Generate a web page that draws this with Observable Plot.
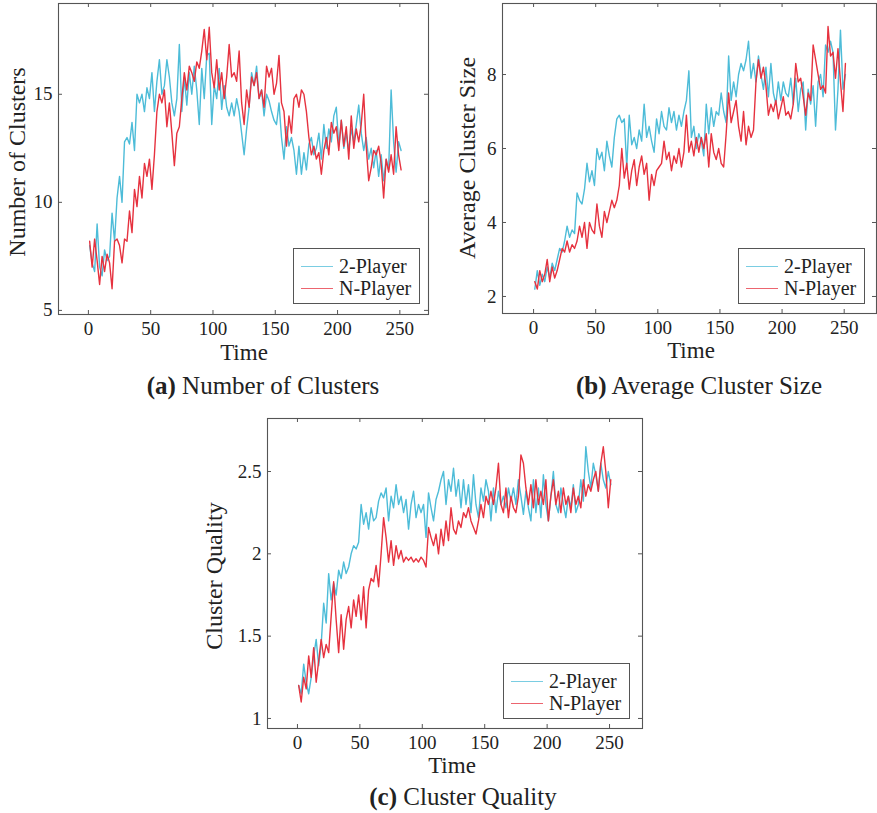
<!DOCTYPE html>
<html><head><meta charset="utf-8">
<script src="https://cdn.jsdelivr.net/npm/d3@7"></script>
<script src="https://cdn.jsdelivr.net/npm/@observablehq/plot@0.6"></script>
<style>
body{margin:0;background:#fff;}
#root{position:relative;width:877px;height:813px;font-family:"Liberation Serif",serif;color:#222;overflow:hidden;}
.plot{position:absolute;}
.lbl{position:absolute;white-space:nowrap;transform:translate(-50%,-50%);line-height:1;}
.rot{transform:translate(-50%,-50%) rotate(-90deg);}
.legend{position:absolute;border:1px solid #555;background:#fff;box-sizing:border-box;}
.legend .sw{position:absolute;height:0;border-top:1.5px solid;}
.legend .tx{position:absolute;font-size:20px;line-height:1;transform:translateY(-50%);white-space:nowrap;}
</style></head>
<body><div id="root"></div>
<script>
// Time grid (every second step)
const time = d3.range(1, 252, 2);
const xTicks = [0, 50, 100, 150, 200, 250];
const seriesNames = ["2-Player", "N-Player"];

// (a) Number of Clusters
const twoA = [8.0,7.2,6.8,9.0,7.0,6.6,7.8,7.3,7.5,9.5,
8.2,10.2,11.2,10.0,12.8,13.0,12.7,13.7,12.4,15.0,
14.6,15.0,14.2,15.3,14.8,16.0,14.2,15.6,16.6,15.0,
15.4,16.6,15.8,14.6,14.0,14.8,17.3,14.2,15.8,14.5,
16.0,15.0,16.3,15.2,13.6,16.2,14.8,16.8,16.9,13.6,
15.4,14.8,16.2,14.3,15.4,14.4,14.0,14.6,14.0,14.8,
14.2,13.2,12.2,13.4,14.4,16.0,15.4,16.3,14.8,15.2,
14.0,15.0,14.7,14.2,13.8,13.6,14.6,13.0,12.0,13.5,
12.6,13.0,12.4,11.3,12.6,11.3,12.3,11.5,12.7,13.0,
12.2,12.5,13.2,12.0,13.6,12.5,13.4,12.8,14.0,14.4,
12.6,13.8,12.5,13.2,12.4,13.4,12.8,13.6,14.5,13.2,
12.4,13.0,12.0,12.5,11.6,12.4,11.2,12.2,11.0,12.0,
11.5,15.2,12.8,11.4,12.8,12.4];
const nA = [8.2,7.0,8.3,7.3,6.2,7.5,6.8,7.6,7.2,6.0,
8.2,8.3,8.0,7.2,8.3,8.2,9.6,8.6,10.6,9.8,
11.2,10.2,11.8,11.2,12.0,10.6,12.2,14.2,15.0,14.6,
15.2,13.5,14.6,13.2,11.7,13.2,13.5,14.8,16.0,15.2,
16.3,16.0,15.6,16.5,16.2,17.0,18.0,16.6,18.1,16.0,
15.3,16.6,15.2,16.0,14.8,15.8,17.3,15.8,16.0,15.6,
17.0,14.6,13.6,15.2,14.4,15.8,15.4,16.0,14.8,15.2,
14.4,16.3,15.8,16.2,15.0,15.5,16.8,14.6,14.2,12.6,
14.0,13.2,14.8,15.0,14.4,15.2,15.0,14.2,13.0,12.2,
12.6,12.0,12.3,11.3,12.4,13.0,12.2,13.7,13.2,13.5,
12.4,13.8,12.6,13.5,12.0,14.0,12.5,13.4,12.8,13.6,
15.0,12.6,11.0,11.6,12.4,12.2,12.6,11.8,10.2,12.0,
11.4,12.2,11.3,13.5,12.2,11.5];
const yTicksA = [5, 10, 15];

// (b) Average Cluster Size
const twoB = [2.2,2.7,2.3,2.6,2.4,2.8,2.5,2.9,2.7,3.0,
3.3,3.2,3.5,3.9,3.6,3.8,3.7,4.8,4.6,4.5,
4.9,5.6,5.1,5.4,5.0,6.0,5.7,5.9,5.4,6.2,
5.8,5.5,6.3,6.8,6.9,6.7,6.8,5.5,6.9,6.1,
6.3,6.0,6.5,6.2,7.2,6.3,6.6,6.2,5.9,6.8,
6.4,7.0,6.6,6.5,7.1,6.7,7.0,6.5,6.9,6.6,
7.0,7.3,8.1,6.3,6.6,6.0,6.4,6.2,5.8,7.2,
6.4,7.1,6.6,7.0,6.9,7.5,7.0,6.7,8.5,7.3,
7.8,7.4,8.0,8.3,8.1,8.4,8.9,7.9,8.3,7.8,
8.5,8.0,7.6,8.2,7.4,8.3,7.5,7.2,7.8,7.3,
7.8,7.5,7.4,7.9,7.2,7.9,7.0,7.6,7.8,6.5,
7.6,7.2,7.7,6.6,7.8,8.0,7.4,8.8,8.6,8.9,
8.6,6.5,7.6,9.2,7.6,8.0];
const nB = [2.4,2.2,2.7,2.4,2.6,3.0,2.4,2.8,2.5,2.7,
3.0,3.3,3.2,3.5,3.2,3.4,3.3,3.5,3.9,3.6,
4.0,3.3,4.0,3.8,3.7,4.5,3.9,3.6,4.3,4.0,
4.3,4.6,4.4,4.6,5.0,6.0,5.2,5.6,4.9,5.4,
5.7,5.0,5.5,5.8,5.3,5.6,4.6,5.3,5.0,5.4,
5.5,5.6,6.2,5.7,5.9,5.4,5.8,5.6,6.0,5.5,
5.9,6.9,5.9,6.2,5.8,6.3,5.9,6.3,6.0,6.4,
5.5,6.4,5.9,5.7,6.0,5.6,5.5,6.4,7.5,6.7,
7.0,7.3,6.6,6.2,7.0,6.1,6.6,6.3,6.5,7.8,
8.4,7.9,8.2,7.7,6.9,7.2,7.0,7.3,6.8,7.1,
7.4,6.9,7.0,6.8,7.2,8.3,7.8,7.9,7.4,6.9,
7.5,7.3,8.8,8.4,8.0,7.6,7.7,7.5,9.3,8.5,
8.6,7.9,8.7,7.8,7.0,8.3];
const yTicksB = [2, 4, 6, 8];

// (c) Cluster Quality
const twoC = [1.2,1.15,1.33,1.22,1.15,1.25,1.38,1.48,1.32,1.45,
1.7,1.58,1.88,1.72,1.82,1.75,1.9,1.85,1.95,1.88,
1.92,2.0,2.05,2.03,2.07,2.3,2.18,2.25,2.15,2.28,
2.2,2.22,2.32,2.37,2.34,2.4,2.2,2.35,2.28,2.42,
2.3,2.35,2.25,2.33,2.15,2.3,2.38,2.22,2.3,2.25,
2.3,2.1,2.37,2.28,2.2,2.33,2.38,2.45,2.5,2.3,
2.45,2.38,2.52,2.35,2.45,2.28,2.45,2.3,2.42,2.25,
2.48,2.3,2.22,2.4,2.32,2.45,2.38,2.2,2.4,2.25,
2.38,2.3,2.35,2.28,2.4,2.32,2.4,2.3,2.45,2.35,
2.24,2.38,2.28,2.2,2.45,2.25,2.4,2.22,2.48,2.3,
2.2,2.35,2.5,2.3,2.25,2.4,2.3,2.22,2.35,2.28,
2.42,2.25,2.3,2.45,2.32,2.65,2.5,2.4,2.55,2.48,
2.38,2.55,2.45,2.4,2.5,2.42];
const nC = [1.2,1.1,1.25,1.18,1.38,1.25,1.43,1.22,1.35,1.48,
1.37,1.45,1.4,1.62,1.83,1.6,1.4,1.63,1.42,1.6,
1.68,1.55,1.72,1.62,1.75,1.6,1.8,1.55,1.78,1.85,
1.83,1.93,1.8,2.0,2.22,2.1,1.95,2.08,1.93,2.05,
1.97,2.02,1.95,1.98,1.96,1.98,1.95,1.97,1.95,1.98,
1.96,1.92,2.16,2.1,2.05,2.12,2.0,2.15,2.05,2.2,
2.08,2.28,2.15,2.12,2.2,2.16,2.25,2.22,2.28,2.2,
2.16,2.12,2.2,2.3,2.22,2.35,2.3,2.38,2.3,2.4,
2.55,2.3,2.25,2.4,2.22,2.35,2.28,2.25,2.35,2.6,
2.55,2.4,2.3,2.42,2.28,2.45,2.3,2.38,2.3,2.45,
2.2,2.35,2.45,2.3,2.38,2.25,2.4,2.3,2.35,2.25,
2.4,2.3,2.35,2.28,2.45,2.35,2.42,2.38,2.45,2.5,
2.38,2.55,2.65,2.5,2.28,2.45];
const yTicksC = [1, 1.5, 2, 2.5];

const CYAN = "#4dbcd8", RED = "#e6323f", AX = "#555";
const root = document.getElementById("root");

function addLabel(html, x, y, size, rot) {
  const d = document.createElement("div");
  d.className = "lbl" + (rot ? " rot" : "");
  d.style.left = x + "px"; d.style.top = y + "px"; d.style.fontSize = size + "px";
  d.innerHTML = html;
  root.appendChild(d);
}

function addLegend(left, top) {
  const lg = document.createElement("div");
  lg.className = "legend";
  lg.style.left = left + "px"; lg.style.top = top + "px";
  lg.style.width = "127px"; lg.style.height = "56px";
  [[CYAN, 17], [RED, 39]].forEach(([c, y], i) => {
    const s = document.createElement("div");
    s.className = "sw"; s.style.left = "7px"; s.style.width = "32px";
    s.style.top = y + "px"; s.style.borderColor = c; s.style.opacity = 0.75;
    lg.appendChild(s);
    const t = document.createElement("div");
    t.className = "tx"; t.style.left = "45px"; t.style.top = y + "px";
    t.textContent = seriesNames[i];
    lg.appendChild(t);
  });
  root.appendChild(lg);
}

function panel(p) {
  const W = p.fx1 - p.fx0 + p.ml + p.mr;
  const H = p.fy1 - p.fy0 + p.mt + p.mb;
  const pw = p.fx1 - p.fx0, ph = p.fy1 - p.fy0;
  const chart = Plot.plot({
    width: W, height: H,
    marginLeft: p.ml, marginRight: p.mr, marginTop: p.mt, marginBottom: p.mb,
    x: {domain: p.xd},
    y: {domain: p.yd},
    style: {fontFamily: "'Liberation Serif', serif", fontSize: "19px", color: "#222", background: "transparent", overflow: "visible"},
    marks: [
      Plot.line(time, {x: time, y: p.two, stroke: CYAN, strokeWidth: 1.4}),
      Plot.line(time, {x: time, y: p.n, stroke: RED, strokeWidth: 1.4}),
      Plot.frame({stroke: AX, strokeWidth: 1.1}),
      Plot.tickX(xTicks, {x: d => d, insetTop: ph - 4, stroke: AX}),
      Plot.tickX(xTicks, {x: d => d, insetBottom: ph - 4, stroke: AX}),
      Plot.tickY(p.yTicks, {y: d => d, insetRight: pw - 4, stroke: AX}),
      Plot.tickY(p.yTicks, {y: d => d, insetLeft: pw - 4, stroke: AX}),
      Plot.axisX({ticks: xTicks, tickSize: 0, tickPadding: 7, label: null, tickFormat: d => String(d), fontSize: 19}),
      Plot.axisY({ticks: p.yTicks, tickSize: 0, tickPadding: 6, label: null, tickFormat: d => String(d), fontSize: 19})
    ]
  });
  chart.classList.add("plot");
  chart.style.left = (p.fx0 - p.ml) + "px";
  chart.style.top = (p.fy0 - p.mt) + "px";
  root.appendChild(chart);
  addLabel("Time", p.timeX, p.timeY, 23);
  addLabel(p.ylabel, p.ylX, p.ylY, 24, true);
  addLabel(p.caption, p.capX, p.capY, 25);
  addLegend(p.lgX, p.lgY);
}

panel({fx0: 58, fx1: 428, fy0: 3, fy1: 314, ml: 58, mr: 8, mt: 3, mb: 30,
  xd: [-24, 273], yd: [4.81, 19.2], yTicks: yTicksA, two: twoA, n: nA,
  timeX: 244, timeY: 352, ylabel: "Number of Clusters", ylX: 17, ylY: 162,
  caption: "<b>(a)</b> Number of Clusters", capX: 263, capY: 385, lgX: 293, lgY: 248});

panel({fx0: 502, fx1: 876, fy0: 3, fy1: 313, ml: 60, mr: 1, mt: 3, mb: 30,
  xd: [-25, 276], yd: [1.54, 9.92], yTicks: yTicksB, two: twoB, n: nB,
  timeX: 691, timeY: 350, ylabel: "Average Cluster Size", ylX: 467, ylY: 158,
  caption: "<b>(b)</b> Average Cluster Size", capX: 699, capY: 385, lgX: 738, lgY: 248});

panel({fx0: 267, fx1: 642, fy0: 418, fy1: 728, ml: 60, mr: 8, mt: 3, mb: 30,
  xd: [-24, 276.4], yd: [0.939, 2.822], yTicks: yTicksC, two: twoC, n: nC,
  timeX: 452, timeY: 765, ylabel: "Cluster Quality", ylX: 214, ylY: 576,
  caption: "<b>(c)</b> Cluster Quality", capX: 463, capY: 796, lgX: 503, lgY: 663});
</script>
</body></html>
